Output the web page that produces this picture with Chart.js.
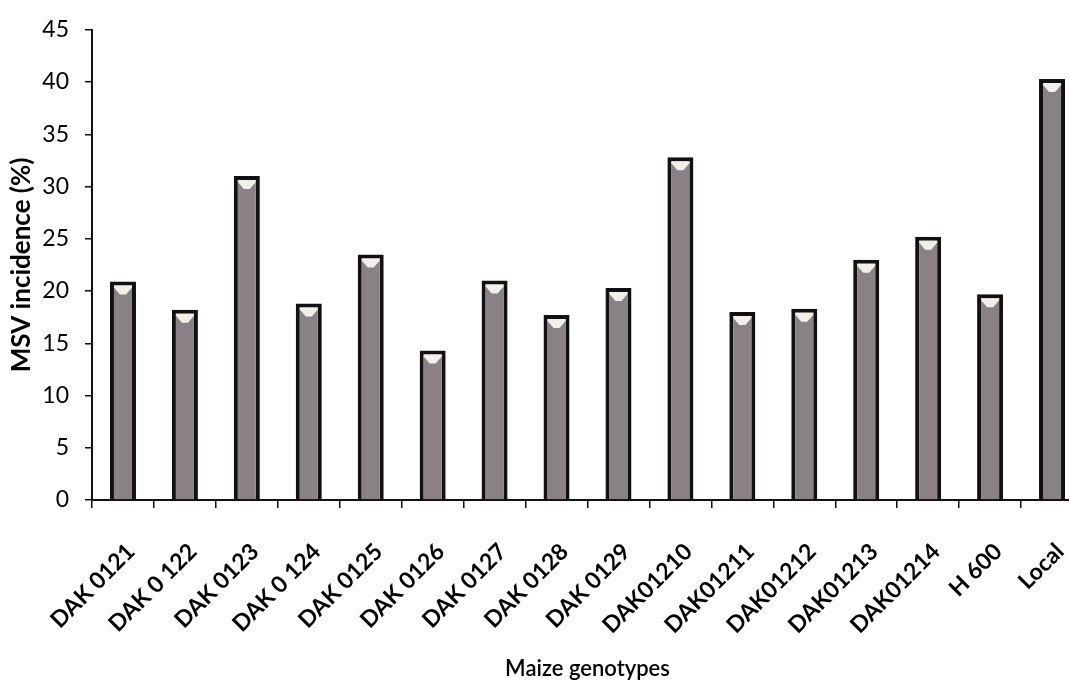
<!DOCTYPE html>
<html>
<head>
<meta charset="utf-8">
<script src="https://cdn.jsdelivr.net/npm/chart.js@4/dist/chart.umd.min.js"></script>
<style>
  html, body { margin: 0; padding: 0; background: #ffffff; overflow: hidden; }
  #wrap { width: 1083px; height: 690px; }
</style>
</head>
<body>
<div id="wrap"><canvas id="c" width="1083" height="690"></canvas></div>
<script>
// Maize genotypes and their MSV incidence (%)
const genotypes = [
  'DAK 0121', 'DAK 0 122', 'DAK 0123', 'DAK 0 124', 'DAK 0125', 'DAK 0126',
  'DAK 0127', 'DAK 0128', 'DAK 0129', 'DAK01210', 'DAK01211', 'DAK01212',
  'DAK01213', 'DAK01214', 'H 600', 'Local'
];
const msvIncidence = [
  20.9, 18.2, 31.0, 18.8, 23.5, 14.3, 21.0, 17.7,
  20.3, 32.8, 18.0, 18.3, 23.0, 25.2, 19.7, 40.3
];
const yMin = 0;
const yMax = 45;
const yStep = 5;

const FONT = 'Lato, "Open Sans", "DejaVu Sans", sans-serif';

// Light bevel highlight on the top of each bar
const barTopHighlight = {
  id: 'barTopHighlight',
  afterDatasetsDraw(chart) {
    const ctx = chart.ctx;
    const meta = chart.getDatasetMeta(0);
    ctx.save();
    meta.data.forEach(bar => {
      const w = bar.width;
      const b = 4;
      const left = bar.x - w / 2 + b;
      const right = bar.x + w / 2 - b;
      const top = bar.y + b;
      ctx.beginPath();
      ctx.moveTo(left, top);
      ctx.lineTo(right, top);
      ctx.lineTo(right, top + 2);
      ctx.lineTo(bar.x + 3, top + 9);
      ctx.lineTo(bar.x - 3, top + 9);
      ctx.lineTo(left, top + 2);
      ctx.closePath();
      ctx.fillStyle = 'rgba(246,246,238,0.95)';
      ctx.fill();
    });
    ctx.restore();
  }
};

new Chart(document.getElementById('c'), {
  type: 'bar',
  data: {
    labels: genotypes,
    datasets: [{
      data: msvIncidence,
      backgroundColor: '#8a8187',
      borderColor: '#121012',
      borderWidth: 4,
      borderSkipped: 'bottom',
      categoryPercentage: 1.0,
      barPercentage: 0.42
    }]
  },
  options: {
    responsive: false,
    animation: false,
    devicePixelRatio: 1,
    layout: { padding: { top: 29, right: 0, left: 0, bottom: 0 } },
    plugins: {
      legend: { display: false },
      tooltip: { enabled: false }
    },
    scales: {
      x: {
        grid: {
          offset: true,
          drawOnChartArea: false,
          drawTicks: true,
          tickLength: 8,
          color: '#111',
          lineWidth: 1.5
        },
        border: { display: true, color: '#111', width: 2 },
        ticks: {
          color: '#000',
          font: { family: FONT, size: 23, weight: 'bold' },
          minRotation: 45,
          maxRotation: 45,
          autoSkip: false,
          padding: 30,
          labelOffset: 8
        },
        title: {
          display: true,
          text: 'Maize genotypes',
          color: '#000',
          font: { family: FONT, size: 22, weight: '600' },
          padding: { top: 0, bottom: 8 }
        },
        afterFit(scale) {
          scale.height = 190;
          scale.paddingLeft = 0;
          scale.paddingRight = 0;
        }
      },
      y: {
        min: yMin,
        max: yMax,
        grid: {
          drawOnChartArea: false,
          drawTicks: true,
          tickLength: 7,
          color: '#111',
          lineWidth: 1.5
        },
        border: { display: true, color: '#111', width: 2 },
        ticks: {
          stepSize: yStep,
          color: '#000',
          font: { family: FONT, size: 23 },
          padding: 16
        },
        title: {
          display: true,
          text: 'MSV incidence (%)',
          color: '#000',
          font: { family: FONT, size: 26, weight: 'bold' },
          padding: { top: 6, bottom: 0 }
        },
        afterFit(scale) { scale.width = 92; }
      }
    }
  },
  plugins: [barTopHighlight]
});
</script>
</body>
</html>
